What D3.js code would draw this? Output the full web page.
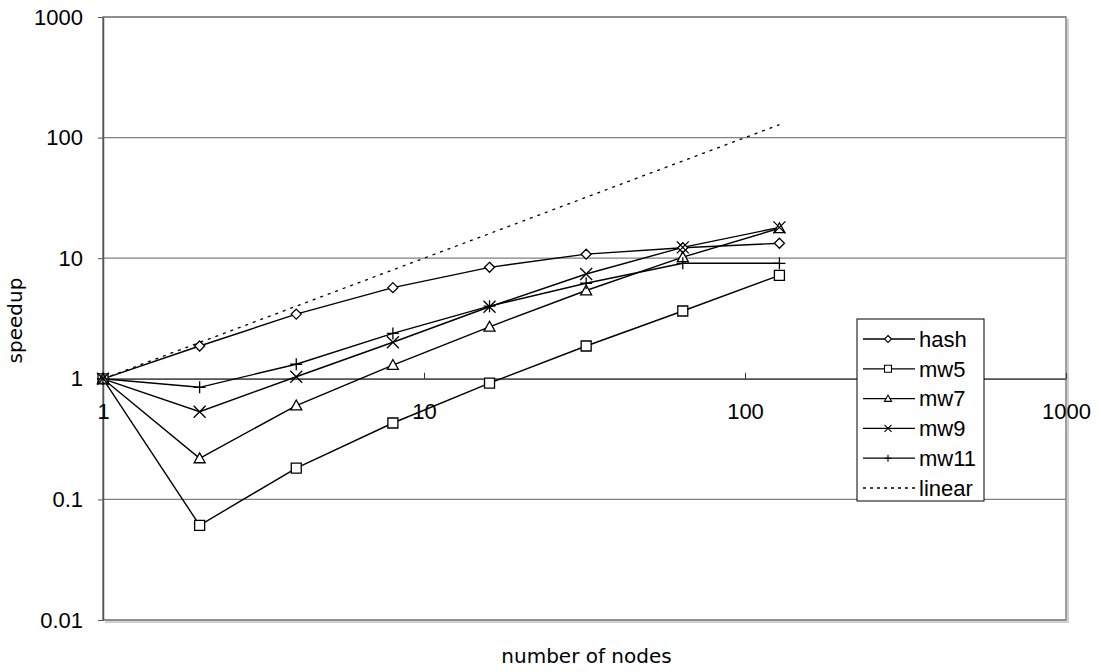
<!DOCTYPE html>
<html>
<head>
<meta charset="utf-8">
<script src="https://cdn.jsdelivr.net/npm/d3@7"></script>
<style>
  body { margin: 0; background: #fff; }
  svg { display: block; }
</style>
</head>
<body>
<div id="chart"></div>
<script>
// values
const nodes = [1, 2, 4, 8, 16, 32, 64, 128];
const hash = [1, 1.87, 3.44, 5.7, 8.4, 10.8, 12.2, 13.3];
const mw5 = [1, 0.061, 0.182, 0.43, 0.92, 1.87, 3.65, 7.2];
const mw7 = [1, 0.219, 0.60, 1.30, 2.70, 5.4, 10.2, 17.7];
const mw9 = [1, 0.533, 1.04, 2.01, 3.96, 7.4, 12.3, 18.0];
const mw11 = [1, 0.85, 1.32, 2.38, 4.0, 6.2, 9.07, 9.07];
const linear = [1, 2, 4, 8, 16, 32, 64, 128];
const xTicks = [1, 10, 100, 1000];
const yTicks = [0.01, 0.1, 1, 10, 100, 1000];

const W = 1101, H = 672;
const plotL = 103, plotR = 1066, plotT = 17, plotB = 620;

const svg = d3.select("#chart").append("svg")
  .attr("width", W).attr("height", H);

const x = d3.scaleLog().domain([1, 1000]).range([plotL, plotR]);
const y = d3.scaleLog().domain([0.01, 1000]).range([plotB, plotT]);

// plot frame + light shadow
svg.append("path")
  .attr("d", `M${plotR + 2},${plotT + 2}V${plotB + 2}H${plotL + 2}`)
  .attr("fill", "none").attr("stroke", "#d0d0d0").attr("stroke-width", 2);
svg.append("rect")
  .attr("x", plotL).attr("y", plotT)
  .attr("width", plotR - plotL).attr("height", plotB - plotT)
  .attr("fill", "none").attr("stroke", "#808080").attr("stroke-width", 1.5);

// horizontal grid lines
svg.append("g")
  .selectAll("line")
  .data(yTicks)
  .join("line")
  .attr("x1", plotL).attr("x2", plotR)
  .attr("y1", d => y(d)).attr("y2", d => y(d))
  .attr("stroke", "#808080").attr("stroke-width", 1.2);

// y axis
const yAxis = svg.append("g")
  .attr("transform", `translate(${plotL},0)`)
  .call(d3.axisLeft(y).tickValues(yTicks).tickFormat(d3.format("~g"))
    .tickSize(5).tickSizeOuter(0).tickPadding(15));
yAxis.select(".domain").attr("stroke", "#555").attr("stroke-width", 1.5);
yAxis.selectAll(".tick line").attr("stroke", "#555");
yAxis.selectAll("text")
  .style("font-family", "'Liberation Sans', Arial, sans-serif")
  .style("font-size", "22px").attr("fill", "#000");

// x axis crossing at y = 1
const xAxis = svg.append("g")
  .attr("transform", `translate(0,${y(1)})`)
  .call(d3.axisBottom(x).tickValues(xTicks).tickFormat(d3.format("d"))
    .tickSize(-6).tickSizeOuter(0).tickPadding(25));
xAxis.select(".domain").attr("stroke", "#555").attr("stroke-width", 1.5);
xAxis.selectAll(".tick line").attr("stroke", "#333");
xAxis.selectAll("text")
  .style("font-family", "'Liberation Sans', Arial, sans-serif")
  .style("font-size", "22px").attr("fill", "#000");

// axis titles
svg.append("text")
  .attr("x", (plotL + plotR) / 2 + 2).attr("y", 663)
  .attr("text-anchor", "middle")
  .style("font-family", "'DejaVu Sans', sans-serif")
  .style("font-size", "20px")
  .text("number of nodes");

svg.append("text")
  .attr("transform", `translate(22,${(plotT + plotB) / 2 + 2}) rotate(-90)`)
  .attr("text-anchor", "middle")
  .style("font-family", "'DejaVu Sans', sans-serif")
  .style("font-size", "20px")
  .text("speedup");

// marker shapes
function markerPath(type, s) {
  if (type === "diamond") return `M0,${-s}L${s},0L0,${s}L${-s},0Z`;
  if (type === "square") return `M${-s},${-s}H${s}V${s}H${-s}Z`;
  if (type === "triangle") return `M0,${-s}L${s},${s * 0.8}H${-s}Z`;
  if (type === "x") return `M${-s},${-s}L${s},${s}M${s},${-s}L${-s},${s}`;
  if (type === "plus") return `M${-s},0H${s}M0,${-s}V${s}`;
  return "";
}

const series = [
  {name: "hash", values: hash, marker: "diamond", size: 5},
  {name: "mw5", values: mw5, marker: "square", size: 5},
  {name: "mw7", values: mw7, marker: "triangle", size: 5.5},
  {name: "mw9", values: mw9, marker: "x", size: 6},
  {name: "mw11", values: mw11, marker: "plus", size: 6},
  {name: "linear", values: linear, marker: null, size: 0}
];

const line = d3.line()
  .x((d, i) => x(nodes[i]))
  .y(d => y(d));

svg.append("g")
  .selectAll("path")
  .data(series)
  .join("path")
  .attr("d", d => line(d.values))
  .attr("fill", "none")
  .attr("stroke", "#000")
  .attr("stroke-width", d => d.marker ? 1.4 : 1.3)
  .attr("stroke-dasharray", d => d.marker ? null : "3,5");

series.filter(s => s.marker).forEach(s => {
  svg.append("g")
    .selectAll("path")
    .data(s.values)
    .join("path")
    .attr("transform", (d, i) => `translate(${x(nodes[i])},${y(d)})`)
    .attr("d", markerPath(s.marker, s.size))
    .attr("fill", "#fff")
    .attr("stroke", "#000")
    .attr("stroke-width", 1.3);
});

// legend
const lg = svg.append("g").attr("transform", "translate(857,319)");
lg.append("rect")
  .attr("width", 127).attr("height", 182)
  .attr("fill", "#fff").attr("stroke", "#000").attr("stroke-width", 1);

const item = lg.selectAll("g.item")
  .data(series)
  .join("g")
  .attr("class", "item")
  .attr("transform", (d, i) => `translate(0,${20 + i * 29.8})`);

item.append("line")
  .attr("x1", 6).attr("x2", 58)
  .attr("stroke", "#000").attr("stroke-width", 1.3)
  .attr("stroke-dasharray", d => d.marker ? null : "3,4");

item.filter(d => d.marker).append("path")
  .attr("transform", "translate(31,0)")
  .attr("d", d => markerPath(d.marker, 3.5))
  .attr("fill", "#fff").attr("stroke", "#000").attr("stroke-width", 1.1);

item.append("text")
  .attr("x", 62).attr("dy", "0.35em")
  .style("font-family", "'Liberation Sans', Arial, sans-serif")
  .style("font-size", "22px")
  .text(d => d.name);
</script>
</body>
</html>
